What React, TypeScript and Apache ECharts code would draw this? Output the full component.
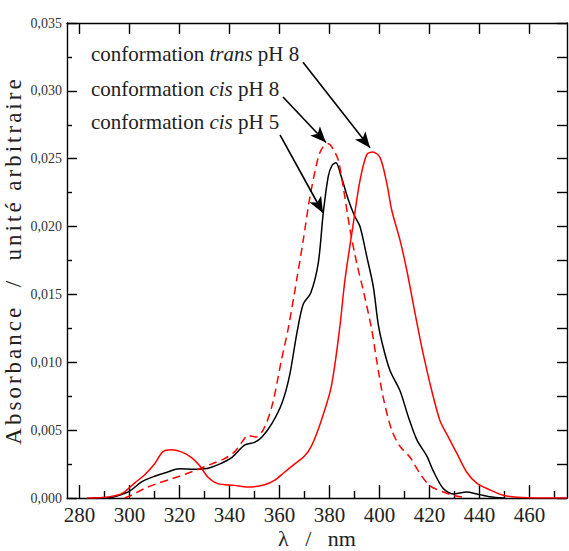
import React, { useEffect, useRef } from "react";
import * as echarts from "echarts";

// ---- data ----
const cisPH5Wavelength = [285, 292, 296, 300, 305, 310, 315, 320, 326, 331, 336, 341, 346, 350, 353, 357, 361, 364, 367, 369.5, 372.5, 375.5, 377.5, 379.5, 381, 382.6, 384.5, 387.5, 390, 392.2, 394.9, 397.5, 399.5, 401.5, 404.2, 408.2, 411.5, 414.9, 418.9, 421.5, 425.5, 429.5, 434.9, 438.9, 444, 450];
const cisPH5Absorbance = [0, 0.00002, 0.0002, 0.0005, 0.0012, 0.0016, 0.0019, 0.00215, 0.00212, 0.00218, 0.0025, 0.003, 0.0039, 0.0041, 0.0045, 0.0055, 0.007, 0.009, 0.0122, 0.0143, 0.0151, 0.0173, 0.021, 0.0237, 0.0245, 0.0247, 0.0238, 0.022, 0.0208, 0.02, 0.0178, 0.0156, 0.0128, 0.0111, 0.0094, 0.0079, 0.006, 0.0043, 0.0031, 0.002, 0.0007, 0.0003, 0.00045, 0.0003, 0.0001, 0];

const cisPH8Wavelength = [298, 300.7, 306, 311, 316.7, 322, 327.3, 332.7, 338, 342, 345.3, 347.3, 350.7, 354, 357.3, 360.7, 363.5, 366.9, 369.5, 372.2, 375.5, 377.5, 379.5, 381.5, 383.5, 385.5, 388.2, 390.9, 393.5, 396.9, 398.9, 401.5, 404.9, 408.2, 412.2, 416.2, 420.2, 425.5, 429.5, 435];
const cisPH8Absorbance = [0, 0.0002, 0.0007, 0.00106, 0.0014, 0.00174, 0.0021, 0.0025, 0.0029, 0.0034, 0.0042, 0.0046, 0.0045, 0.0052, 0.007, 0.0101, 0.0125, 0.0161, 0.019, 0.0222, 0.0251, 0.0259, 0.0261, 0.0257, 0.0249, 0.0229, 0.0198, 0.0173, 0.0153, 0.0124, 0.0101, 0.0074, 0.005, 0.0038, 0.003, 0.0018, 0.0009, 0.00044, 0.0002, 0];

const transPH8Wavelength = [283, 289, 296.7, 302, 306, 310, 313.3, 316.7, 320.7, 324.7, 328, 331.3, 335.3, 342, 347.3, 354, 358, 362, 366, 370, 372.7, 376.7, 380.7, 384, 386.2, 389.5, 392.2, 394.9, 397.3, 400.2, 402.9, 404.9, 408.2, 410.9, 413.5, 415.5, 417.5, 420.9, 424.2, 427.5, 430.9, 434.9, 438.9, 444.2, 449.5, 455, 465, 475];
const transPH8Absorbance = [0, 0.00003, 0.0003, 0.0011, 0.0017, 0.0025, 0.0034, 0.00356, 0.0034, 0.003, 0.0024, 0.00155, 0.00106, 0.00093, 0.00081, 0.00098, 0.0013, 0.0019, 0.0025, 0.0031, 0.0038, 0.0057, 0.0082, 0.0124, 0.0161, 0.0202, 0.0234, 0.0253, 0.0255, 0.0251, 0.0232, 0.0212, 0.019, 0.0168, 0.0143, 0.0124, 0.0106, 0.0079, 0.0057, 0.0045, 0.0033, 0.0019, 0.0011, 0.0006, 0.0002, 0.00005, 0, 0];

const xMajorTicks = [280, 300, 320, 340, 360, 380, 400, 420, 440, 460];
const xMinorTicks = [290, 310, 330, 350, 370, 390, 410, 430, 450, 470];

// annotation labels and arrows: [startWavelength, startAbsorbance, tipWavelength, tipAbsorbance]
const labelPrefix = "conformation ";
const labelConformations = ["trans", "cis", "cis"];
const labelPH = [" pH 8", " pH 8", " pH 5"];
const arrowLines = [
  [369.4, 0.0321, 396.2, 0.0258],
  [361.4, 0.02955, 378.6, 0.0262],
  [360.2, 0.02675, 377.4, 0.0210],
];

const FONT = "Liberation Serif";

function zip(xs: number[], ys: number[]) {
  return xs.map((x, i) => [x, ys[i]]);
}

export default function App() {
  const ref = useRef<HTMLDivElement | null>(null);
  useEffect(() => {
    if (!ref.current) return;
    const chart = echarts.init(ref.current, null, { renderer: "svg" });
    const axisLineStyle = { color: "#000", width: 1.4 };
    const option: any = {
      animation: false,
      backgroundColor: "#fff",
      textStyle: { fontFamily: FONT },
      grid: { left: 67, right: 2, top: 23, bottom: 53, containLabel: false, outerBoundsMode: "none" },
      xAxis: [
        {
          type: "value",
          min: 275,
          max: 475,
          position: "bottom",
          axisLine: { show: true, lineStyle: axisLineStyle },
          axisTick: { show: true, inside: true, length: 13, customValues: xMajorTicks, lineStyle: axisLineStyle },
          axisLabel: { show: true, customValues: xMajorTicks, fontFamily: FONT, fontSize: 21, color: "#222", margin: 6 },
          splitLine: { show: false },
          name: "λ   /   nm",
          nameLocation: "middle",
          nameGap: 29,
          nameMoveOverlap: false,
          nameTextStyle: { fontFamily: FONT, fontSize: 22, color: "#222" },
        },
        {
          type: "value",
          min: 275,
          max: 475,
          position: "bottom",
          axisLine: { show: false },
          axisTick: { show: true, inside: true, length: 7, customValues: xMinorTicks, lineStyle: axisLineStyle },
          axisLabel: { show: false },
          splitLine: { show: false },
        },
        {
          type: "value",
          min: 275,
          max: 475,
          position: "top",
          axisLine: { show: true, lineStyle: axisLineStyle },
          axisTick: { show: true, inside: true, length: 11, customValues: xMajorTicks, lineStyle: axisLineStyle },
          axisLabel: { show: false },
          splitLine: { show: false },
        },
      ],
      yAxis: [
        {
          type: "value",
          min: 0,
          max: 0.035,
          interval: 0.005,
          position: "left",
          axisLine: { show: true, lineStyle: axisLineStyle },
          axisTick: { show: true, inside: true, length: 10, lineStyle: axisLineStyle },
          minorTick: { show: true, splitNumber: 2, length: 5, lineStyle: axisLineStyle },
          axisLabel: {
            fontFamily: FONT,
            fontSize: 14,
            color: "#333",
            margin: 5,
            formatter: (v: number) => v.toFixed(3).replace(".", ","),
          },
          splitLine: { show: false },
          name: "Absorbance  /  unité arbitraire",
          nameLocation: "middle",
          nameRotate: 90,
          nameGap: 42,
          nameMoveOverlap: false,
          nameTextStyle: { fontFamily: FONT, fontSize: 23, color: "#222" },
        },
        {
          type: "value",
          min: 0,
          max: 0.035,
          interval: 0.0025,
          position: "right",
          axisLine: { show: true, lineStyle: axisLineStyle },
          axisTick: { show: true, inside: true, length: 10, lineStyle: axisLineStyle },
          axisLabel: { show: false },
          splitLine: { show: false },
        },
      ],
      series: [
        {
          name: "conformation cis pH 5",
          type: "line",
          xAxisIndex: 0,
          yAxisIndex: 0,
          data: zip(cisPH5Wavelength, cisPH5Absorbance),
          showSymbol: false,
          smooth: 0.3,
          lineStyle: { color: "#000", width: 1.5 },
          markLine: {
            silent: true,
            symbol: ["none", "arrow"],
            symbolSize: [10, 16],
            label: { show: false },
            lineStyle: { color: "#000", width: 1.6, type: "solid" },
            data: arrowLines.map((a) => [
              { coord: [a[0], a[1]] },
              { coord: [a[2], a[3]] },
            ]),
          },
        },
        {
          name: "conformation cis pH 8",
          type: "line",
          data: zip(cisPH8Wavelength, cisPH8Absorbance),
          showSymbol: false,
          smooth: 0.3,
          lineStyle: { color: "#ff0000", width: 1.5, type: [8, 5] },
        },
        {
          name: "conformation trans pH 8",
          type: "line",
          data: zip(transPH8Wavelength, transPH8Absorbance),
          showSymbol: false,
          smooth: 0.3,
          lineStyle: { color: "#ff0000", width: 1.5 },
        },
      ],
      graphic: labelConformations.map((c, i) => ({
        type: "text",
        left: 91,
        top: [43, 78, 111][i],
        style: {
          text: `{a|${labelPrefix}}{b|${c}}{a|${labelPH[i]}}`,
          rich: {
            a: { fontFamily: FONT, fontSize: 21, fill: "#222" },
            b: { fontFamily: FONT, fontSize: 21, fontStyle: "italic", fill: "#222" },
          },
        },
      })),
    };
    chart.setOption(option);
    const texts = ref.current.querySelectorAll("text");
    texts.forEach((t) => {
      if ((t.textContent || "").indexOf("Absorbance") >= 0) {
        (t as SVGTextElement).style.letterSpacing = "3px";
      }
    });
    return () => chart.dispose();
  }, []);
  return (
    <div
      ref={ref}
      style={{ position: "fixed", left: 0, top: 0, width: 569, height: 551, background: "#fff" }}
    />
  );
}
